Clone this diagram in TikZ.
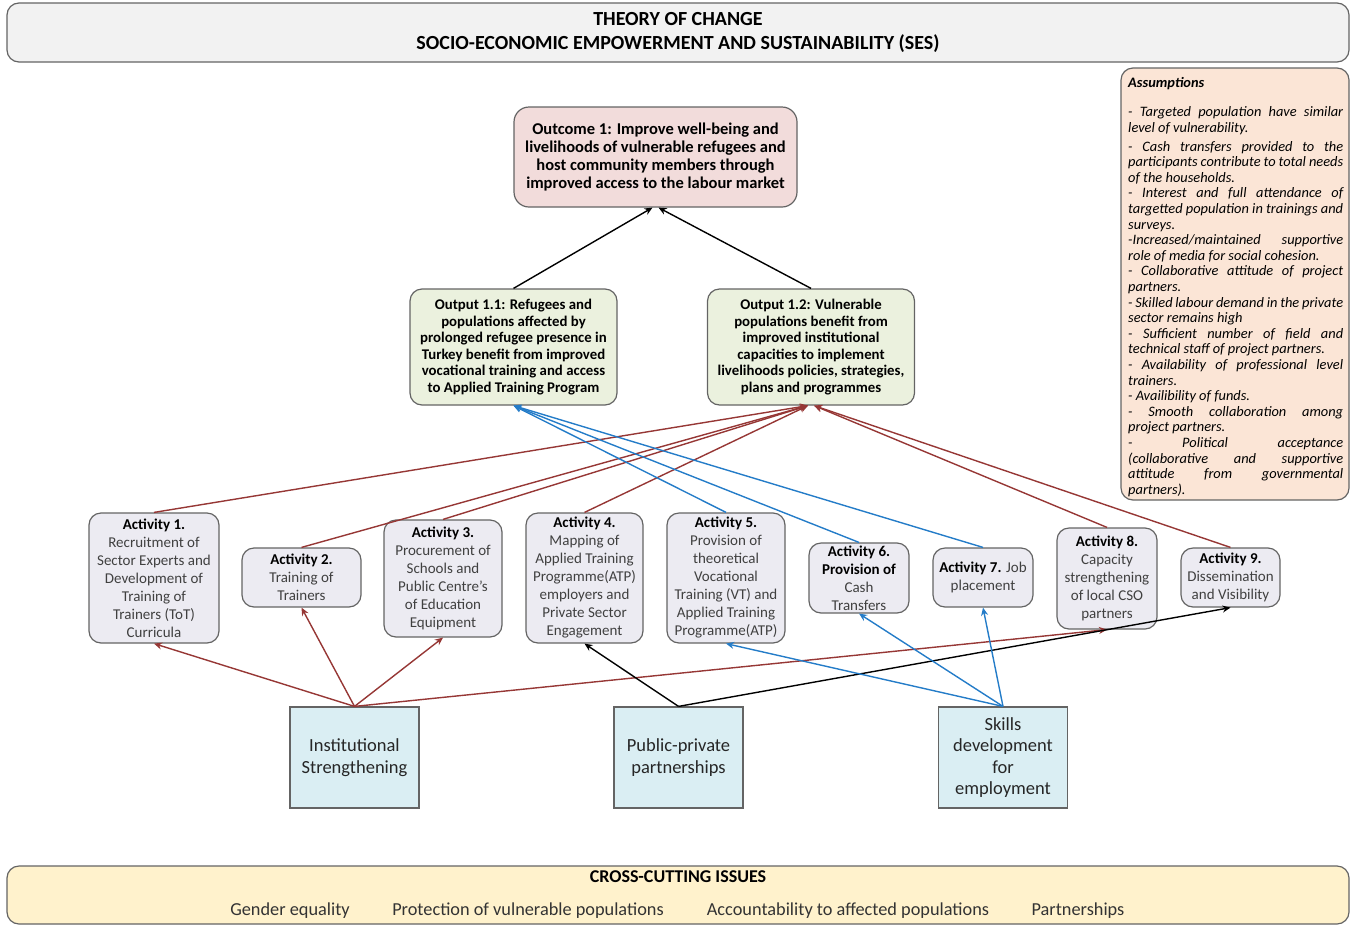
\documentclass[tikz,border=0pt]{standalone}
\usepackage{fontspec}
\setmainfont{Carlito}
\usetikzlibrary{arrows.meta}
\definecolor{tocred}{RGB}{150,55,53}
\definecolor{tocblue}{RGB}{36,124,200}
\definecolor{boxline}{RGB}{100,100,100}
\definecolor{titlefill}{RGB}{242,242,242}
\definecolor{assumefill}{RGB}{251,229,214}
\definecolor{outcomefill}{RGB}{242,220,219}
\definecolor{outputfill}{RGB}{235,241,222}
\definecolor{actfill}{RGB}{236,235,242}
\definecolor{pillarfill}{RGB}{218,238,243}
\definecolor{crossfill}{RGB}{255,242,204}
\definecolor{acttext}{RGB}{64,64,64}
\begin{document}
\begin{tikzpicture}[x=1pt,y=-1pt,
  box/.style={draw=boxline,line width=1.2pt,rounded corners=12pt,align=center,inner sep=0pt},
  act/.style={box,fill=actfill,text=acttext,font=\fontsize{15}{18}\selectfont},
  output/.style={box,fill=outputfill,minimum width=207pt,minimum height=116pt,font=\bfseries\fontsize{14.8}{16.6}\selectfont},
  pillar/.style={draw=boxline,line width=1.2pt,fill=pillarfill,align=center,minimum width=129pt,minimum height=101pt,text=black!85,font=\fontsize{18.5}{21.5}\selectfont},
  issue/.style={font=\fontsize{18.3}{20}\selectfont,text=black!80},
  tip/.style={-{Stealth[length=8pt,width=7pt]}},
  redarr/.style={tip,draw=tocred,line width=1.4pt},
  bluearr/.style={tip,draw=tocblue,line width=1.4pt},
  blackarr/.style={tip,draw=black,line width=1.4pt}]
  \useasboundingbox (0,0) rectangle (1357,927);
  \node[box,fill=titlefill,minimum width=1342pt,minimum height=59pt,font=\bfseries\fontsize{20}{24}\selectfont] (title) at (678,32.5) {THEORY OF CHANGE\\SOCIO-ECONOMIC EMPOWERMENT AND SUSTAINABILITY (SES)};
  \node[box,fill=assumefill,minimum width=228pt,minimum height=432pt] (assume) at (1235,284) {};
  \node[anchor=north west,inner sep=0pt,text width=215pt,align=justify,font=\itshape\fontsize{14.4}{15.6}\selectfont] (assumetext) at (1128,77) {\lefthyphenmin=64\hyphenpenalty=10000\parskip=0pt
    \textbf{Assumptions}\par\vspace{14pt}
    - Targeted population have similar level of vulnerability.\par\vspace{3pt}
    - Cash transfers provided to the participants contribute to total needs of the households.\par
    - Interest and full attendance of targetted population in trainings and surveys.\par
    -Increased/maintained supportive role of media for social cohesion.\par
    - Collaborative attitude of project partners.\par
    - Skilled labour demand in the private sector remains high\par
    - Sufficient number of field and technical staff of project partners.\par
    - Availability of professional level trainers.\par
    - Availibility of funds.\par
    - Smooth collaboration among project partners.\par
    - \hfill Political \hfill acceptance\linebreak (collaborative and supportive\linebreak attitude from governmental\linebreak partners).};
  \node[box,fill=outcomefill,rounded corners=15pt,minimum width=283pt,minimum height=100pt,font=\bfseries\fontsize{16.5}{18}\selectfont] (outcome) at (655.5,157) {Outcome 1: Improve well-being and\\livelihoods of vulnerable refugees and\\host community members through\\improved access to the labour market};
  \node[output] (out11) at (513.5,347) {Output 1.1: Refugees and\\populations affected by\\prolonged refugee presence in\\Turkey benefit from improved\\vocational training and access\\to Applied Training Program};
  \node[output] (out12) at (811,347) {Output 1.2: Vulnerable\\populations benefit from\\improved institutional\\capacities to implement\\livelihoods policies, strategies,\\plans and programmes};
  \node[act,minimum width=130pt,minimum height=130pt] (a1) at (154,578) {\textbf{\color{black}Activity 1.}\\Recruitment of\\Sector Experts and\\Development of\\Training of\\Trainers (ToT)\\Curricula};
  \node[act,minimum width=119pt,minimum height=59pt] (a2) at (301.5,577.5) {\textbf{\color{black}Activity 2.}\\Training of\\Trainers};
  \node[act,minimum width=118pt,minimum height=117pt] (a3) at (443,578.5) {\textbf{\color{black}Activity 3.}\\Procurement of\\Schools and\\Public Centre’s\\of Education\\Equipment};
  \node[act,minimum width=117pt,minimum height=130pt] (a4) at (584.5,578) {\textbf{\color{black}Activity 4.}\\Mapping of\\Applied Training\\Programme(ATP)\\employers and\\Private Sector\\Engagement};
  \node[act,minimum width=118pt,minimum height=130pt] (a5) at (726,578) {\textbf{\color{black}Activity 5.}\\Provision of\\theoretical\\Vocational\\Training (VT) and\\Applied Training\\Programme(ATP)};
  \node[act,minimum width=100pt,minimum height=70pt] (a6) at (859,578) {\textbf{\color{black}Activity 6.}\\\textbf{\color{black}Provision of}\\Cash\\Transfers};
  \node[act,minimum width=100pt,minimum height=59pt] (a7) at (983,577.5) {\textbf{\color{black}Activity 7.} Job\\placement};
  \node[act,minimum width=100pt,minimum height=101pt] (a8) at (1107,578.5) {\textbf{\color{black}Activity 8.}\\Capacity\\strengthening\\of local CSO\\partners};
  \node[act,minimum width=99pt,minimum height=59pt] (a9) at (1230.5,577.5) {\textbf{\color{black}Activity 9.}\\Dissemination\\and Visibility};
  \node[pillar] (inst) at (354.5,757.5) {Institutional\\Strengthening};
  \node[pillar] (pub) at (678.5,757.5) {Public-private\\partnerships};
  \node[pillar] (skills) at (1003,757.5) {Skills\\development\\for\\employment};
  \node[box,fill=crossfill,minimum width=1342pt,minimum height=58pt] (cross) at (678,895) {};
  \node[font=\bfseries\fontsize{18}{20}\selectfont] (crosstitle) at (678,877) {CROSS-CUTTING ISSUES};
  \node[issue] (gender) at (290,911) {Gender equality};
  \node[issue] (protect) at (528,911) {Protection of vulnerable populations};
  \node[issue] (account) at (848,911) {Accountability to affected populations};
  \node[issue] (partner) at (1078,911) {Partnerships};
  \draw[blackarr] (out11.north) -- ([xshift=-3pt]outcome.south);
  \draw[blackarr] (out12.north) -- ([xshift=3pt]outcome.south);
  \foreach \a in {a1,a2,a3,a4}
    \draw[redarr] (\a.north) -- ([xshift=-3pt]out12.south);
  \foreach \a in {a8,a9}
    \draw[redarr] (\a.north) -- ([xshift=3pt]out12.south);
  \foreach \a in {a5,a6,a7}
    \draw[bluearr] (\a.north) -- (out11.south);
  \foreach \a in {a1,a2,a3,a8}
    \draw[redarr] (inst.north) -- (\a.south);
  \foreach \a in {a4,a9}
    \draw[blackarr] (pub.north) -- (\a.south);
  \foreach \a in {a5,a6,a7}
    \draw[bluearr] (skills.north) -- (\a.south);
\end{tikzpicture}
\end{document}
